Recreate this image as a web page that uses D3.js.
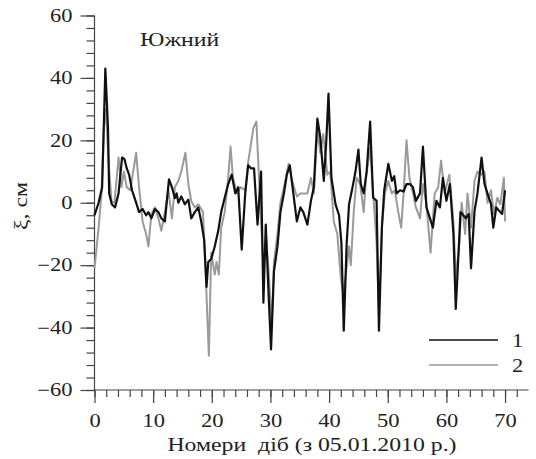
<!DOCTYPE html>
<meta charset="utf-8">
<style>
 body { margin: 0; background: #fff; }
 svg { display: block; }
 .axis path, .axis line { stroke: #444; stroke-width: 1.2px; }
 .series { fill: none; stroke-linejoin: round; }
</style>
<svg width="536" height="459"></svg>
<script src="https://d3js.org/d3.v7.min.js"></script>
<script>

 // series 1 (black) - day number, sea level in cm
 var days1 = [0, 0.7, 1.3, 1.85, 2.3, 2.5, 2.95, 3.5, 4.1, 4.7, 5.1, 5.5, 5.9, 6.4, 7.0, 7.6, 8.2, 8.8,
   9.2, 9.7, 10.3, 10.9, 11.4, 12.0, 12.7, 13.2, 13.7, 14.0, 14.3, 14.8, 15.4, 16.0, 16.5, 17.1, 17.7,
   18.2, 18.7, 19.1, 19.4, 19.9, 20.5, 21.1, 21.6, 22.2, 22.8, 23.4, 24.0, 24.5, 25.1, 25.7, 26.2, 26.7,
   27.2, 27.8, 28.4, 28.8, 29.2, 29.7, 30.1, 30.6, 31.2, 31.7, 32.3, 32.8, 33.3, 33.9, 34.5, 35.1, 35.6,
   36.3, 36.9, 37.4, 38.0, 38.5, 39.1, 39.5, 39.9, 40.4, 41.1, 41.7, 42.1, 42.5, 43.0, 43.4, 44.0, 44.5,
   45.0, 45.4, 45.9, 46.4, 47.0, 47.5, 48.1, 48.5, 49.0, 49.4, 50.1, 50.7, 51.1, 51.5, 52.1, 52.7, 53.2,
   53.8, 54.3, 54.8, 55.5, 56.0, 56.6, 57.2, 57.7, 58.3, 58.9, 59.4, 60.0, 60.6, 61.2, 61.6, 62.0, 62.4,
   62.9, 63.3, 63.8, 64.2, 64.8, 65.3, 66.0, 66.5, 67.0, 67.6, 68.0, 68.5, 69.0, 69.5, 70.0];
 var xi1 = [-4, 0, 5, 43, 24, 3, -0.5, -1.5, 3, 14.5, 14, 11, 9, 4, 0.6, -3, -2, -4,
   -3, -5, -2, -3, -5, -6, 7.5, 5, 1.5, 3, 0, 2, -0.5, 1, -5, -3, -1.5,
   -6, -12, -27, -19, -18, -14, -9, -3, 1.6, 6, 9, 3, 5, -15, 3, 12, 11,
   11, -7, 10, -32, -7, -30, -47, -22, -14, -3, 3, 9, 12, 3, -6, -1.5, -3,
   -7, 0.6, 5, 27, 21, 7, 19, 35, 8, -0.5, -4, -13, -41, -13, -0.5, 5, 10,
   17, 6, 3, 10, 26, 1.7, 0.6, -41, -8, 4, 12.5, 7, 8.5, 3, 4, 3.6, 6,
   6, 5, 0.6, 3, 18, -1.5, -5, -8, 0.6, -1.5, 8, 0.6, 6, -10, -34, -19, -3,
   -4, -5, -3.6, -21, -2.6, 3, 14.5, 6, 3, -0.4, -8, -1.5, -2.6, -3.6, 4];

 // series 2 (grey)
 var days2 = [0, 0.7, 1.2, 1.6, 1.95, 2.4, 2.9, 3.4, 4.1, 4.6, 5.0, 5.5, 6.1, 7.1, 7.6, 8.2, 8.8, 9.2,
   9.7, 10.3, 10.9, 11.4, 12.0, 12.6, 13.2, 13.7, 14.3, 14.8, 15.5, 16.0, 16.5, 17.1, 17.7, 18.5, 18.9,
   19.5, 19.9, 20.5, 20.8, 21.2, 21.6, 22.2, 22.8, 23.2, 23.6, 24.3, 24.9, 25.7, 26.2, 27.1, 27.6, 27.9,
   28.4, 28.8, 29.3, 29.8, 30.2, 30.6, 31.2, 31.7, 32.3, 33.1, 33.7, 34.5, 35.1, 35.6, 36.3, 36.9, 37.4,
   38.0, 38.5, 39.0, 39.7, 40.2, 40.8, 41.4, 42.0, 42.4, 42.8, 43.4, 43.7, 44.2, 44.7, 45.3, 45.9, 46.3,
   47.0, 47.6, 48.1, 48.5, 49.0, 49.5, 50.1, 50.7, 51.2, 51.8, 52.3, 52.7, 53.2, 53.7, 54.3, 54.8, 55.5,
   56.0, 56.6, 57.3, 58.0, 58.6, 59.1, 59.7, 60.5, 61.2, 61.6, 62.2, 62.6, 63.2, 63.6, 64.2, 64.8, 65.3,
   65.9, 66.5, 67.0, 67.6, 68.1, 68.7, 69.2, 69.8, 70.0];
 var xi2 = [-21, -8, 3, 24, 30, 13, 0.5, 0, 14.5, 5, 10, 5, 4, 16, 5, -6, -10, -14,
   -3.6, -1.5, -5, -9, -3, 4, -5, 5, 7, 10, 16, 6, 0.5, -1.5, -0.5, -3, -20,
   -49, -16, -23, -19, -23, -8, -3, 8, 18, 8, 3, 5, 4, 13, 24, 26, 14,
   -6, -20, -12, -25, -40, -19, -10, 0, 5, 12.5, 7, 2, 3, 3, 3, 8, 3,
   24, 16, 22, 9, 10, -6, -10, -24, -29, -24, -14, -20, -3, 8, 6, -3, 8,
   17.7, 0.6, -13, -36, -8, 3, 7, 3, 4, -3, -8, 3, 20, 8, 3, -1.5, -5,
   6, -0.5, -16, 3, 5, 13.5, 3, 9, -6, -24, -13, 0, -10, 3, -8, 7, 10,
   9, 10, 0, 4, -3.6, 1.6, -0.5, 8, -6];

 var xMajor = [0, 10, 20, 30, 40, 50, 60, 70];
 var yMajor = [-60, -40, -20, 0, 20, 40, 60];
 var stationName = "Южний";
 var legendNames = ["1", "2"];
 var legendColors = ["#111", "#9a9a9a"];

 var svg = d3.select("svg");

 var x = d3.scaleLinear().domain([0, 74]).range([94.5, 528.5]);
 var y = d3.scaleLinear().domain([-60, 60]).range([390, 15.5]);

 // x axis: minor ticks every 2 days, labelled ones every 10
 svg.append("g")
    .attr("class", "axis")
    .attr("transform", "translate(0,390)")
    .call(d3.axisBottom(x).tickValues(d3.range(0, 74, 2)).tickSize(7).tickFormat(""))
    .call(function(g) { g.select(".domain").attr("d", "M" + x.range()[0] + ",0H" + x.range()[1]); });

 svg.append("g")
    .attr("class", "axis")
    .attr("transform", "translate(0,390)")
    .call(d3.axisBottom(x).tickValues(xMajor).tickSize(13).tickPadding(11).tickFormat(d3.format("d")))
    .call(function(g) { g.select(".domain").remove(); });

 // y axis: minor every 4, labelled every 20
 svg.append("g")
    .attr("class", "axis")
    .attr("transform", "translate(94.5,0)")
    .call(d3.axisLeft(y).tickValues(d3.range(-60, 61, 4)).tickSize(8).tickFormat(""))
    .call(function(g) { g.select(".domain").attr("d", "M0," + y.range()[0] + "V" + y.range()[1]); });

 svg.append("g")
    .attr("class", "axis")
    .attr("transform", "translate(94.5,0)")
    .call(d3.axisLeft(y).tickValues(yMajor).tickSize(14).tickPadding(8).tickFormat(d3.format("d")))
    .call(function(g) { g.select(".domain").remove(); });

 var line = d3.line()
              .x(function(d) { return x(d[0]); })
              .y(function(d) { return y(d[1]); });

 svg.append("path")
    .datum(d3.zip(days2, xi2))
    .attr("class", "series")
    .attr("stroke", legendColors[1])
    .attr("stroke-width", 2)
    .attr("d", line);

 svg.append("path")
    .datum(d3.zip(days1, xi1))
    .attr("class", "series")
    .attr("stroke", legendColors[0])
    .attr("stroke-width", 2.2)
    .attr("d", line);

 // station name
 svg.append("text")
    .attr("x", 140)
    .attr("y", 46)
    .attr("class", "big")
    .text(stationName);

 // legend
 var legend = svg.append("g")
                 .selectAll("g")
                 .data(legendNames)
                 .enter().append("g")
                 .attr("transform", function(d, i) { return "translate(429," + (340 + i * 25) + ")"; });

 legend.append("line")
       .attr("x1", 0).attr("x2", 69)
       .attr("stroke", function(d, i) { return legendColors[i]; })
       .attr("stroke-width", 1.5);

 legend.append("text")
       .attr("x", 83)
       .attr("y", 7)
       .text(function(d) { return d; });

 // axis titles
 svg.append("text")
    .attr("x", 312)
    .attr("y", 451)
    .attr("text-anchor", "middle")
    .attr("class", "big")
    .attr("xml:space", "preserve")
    .text("Номери  діб (з 05.01.2010 р.)");

 svg.append("text")
    .attr("transform", "translate(27,206) rotate(-90)")
    .attr("text-anchor", "middle")
    .attr("class", "big")
    .text("ξ, см");

 // every text in the same serif face; the original type is set a bit wide
 svg.selectAll("text")
    .style("font-family", "Liberation Serif")
    .style("font-size", "18px")
    .style("fill", "#222");
 svg.selectAll("text.big").style("font-size", "19px");

 svg.selectAll("text").each(function() {
   var w = this.getComputedTextLength();
   if (w > 0) {
     d3.select(this)
       .attr("textLength", w * 1.25)
       .attr("lengthAdjust", "spacingAndGlyphs");
   }
 });
</script>
